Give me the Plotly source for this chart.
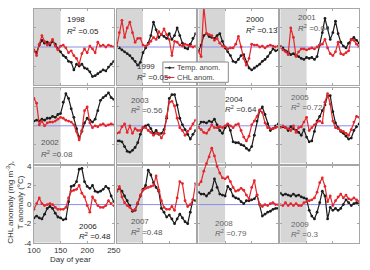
import plotly.graph_objects as go

days = list(range(100, 251, 5))
years = [1998, 1999, 2000, 2001, 2002, 2003, 2004, 2005, 2006, 2007, 2008, 2009]
r2_labels = ["0.05", "0.05", "0.13", "0.04", "0.08", "0.56", "0.64", "0.72", "0.48", "0.48", "0.79", "0.3"]
x_ticks = [100, 150, 200, 250]
y_ticks = [-4, -2, 0, 2, 4]
y_tick_text = ["-4", "-2", "0", "2", "4"]

temp_1998 = [-0.4, -0.6, 0.2, 0.7, 0.4, 0.5, 0.2, 0.6, 0.3, -0.2, -0.5, -0.9, -1.1, -1.5, -1.6, -2.4, -1.8, -2.0, -1.8, -2.2, -2.3, -2.6, -3.1, -3.0, -2.8, -2.6, -2.4, -2.5, -2.1, -1.8, -1.5]
chl_1998 = [-0.3, -0.9, 0.3, 1.2, 0.6, 0.2, 0.4, 0.8, 0.1, -0.3, 0.1, 0.2, -0.1, -0.6, -0.4, -0.9, -1.2, -1.8, -0.7, -0.2, -0.6, 0.1, -0.2, -0.6, 0.5, 0.1, 0.2, 0.0, 0.2, 0.1, 0.0]
temp_1999 = [0.0, -0.1, -0.3, -0.5, -0.7, -0.9, -1.2, -1.5, -1.9, -1.6, -0.6, -0.1, 0.4, 1.2, 2.6, 1.8, 1.0, 1.3, 1.1, 0.9, 1.4, 0.8, 1.2, 2.0, 1.2, 0.4, -0.1, -0.2, 0.3, 0.9, 1.4]
chl_1999 = [0.0, 1.5, 2.8, 1.0, 2.0, 2.6, 1.5, 0.5, 0.9, 0.9, 0.2, 0.1, 0.3, 0.6, 1.0, 0.8, 1.6, 1.3, 1.9, 1.3, 0.8, -0.9, 0.6, 0.5, 0.2, 0.1, 0.3, 0.2, 0.1, 0.0, 0.1]
temp_2000 = [-0.4, 0.2, 1.2, 1.4, 1.1, 1.0, 0.9, 1.2, 1.4, 0.6, -0.1, -0.5, -0.9, -1.5, -1.6, -1.3, -0.9, -0.8, -1.6, -2.2, -2.4, -2.2, -2.0, -1.8, -1.5, -1.3, -1.0, -0.6, -0.2, -0.4, -0.3]
chl_2000 = [-0.5, -1.0, 4.3, 1.4, 1.3, 1.2, 0.7, 0.9, 0.4, 0.1, 0.0, -0.2, -0.1, -0.1, 0.3, 1.1, 0.0, -1.2, -1.9, -1.2, 0.3, 0.2, 0.2, 0.0, 0.1, -0.1, 0.1, 0.2, 0.1, 0.0, 0.1]
temp_2001 = [0.0, -0.1, -0.4, -0.5, -0.8, -0.7, -0.9, -1.0, -1.2, -1.3, -1.1, -1.2, -1.1, -1.3, -1.0, 0.2, 1.5, 3.0, 2.0, 0.8, 1.5, 2.7, 1.4, 0.5, 0.1, -0.1, 0.4, 0.8, 1.0, 0.7, 0.4]
chl_2001 = [0.1, -0.3, -0.5, -0.8, 2.0, 1.0, -1.0, -0.5, -0.2, -0.2, -0.3, -0.2, -0.1, -0.2, 0.0, 0.2, 0.3, 0.8, -0.1, -0.7, -0.9, -0.5, 0.5, -0.7, -0.8, -0.6, -0.4, 0.8, 0.7, 0.3, 0.0]
temp_2002 = [0.5, 0.6, 0.5, 0.7, 0.6, 0.8, 0.8, 1.0, 0.9, 1.2, 1.3, 2.5, 3.4, 2.9, 1.8, 0.9, -0.3, -1.3, -0.6, 0.3, 0.8, 0.6, 0.4, 0.7, 1.6, 2.7, 3.0, 3.2, 3.5, 3.0, 2.8]
chl_2002 = [2.9, 2.4, 0.1, 0.5, 0.0, 0.3, 0.4, 0.4, 0.5, 0.7, 0.9, 0.8, 0.6, 0.5, 0.4, 0.1, -0.6, -1.5, -0.5, 1.6, 2.0, 0.3, -0.2, 0.0, -0.1, 0.1, 0.2, 0.0, 0.1, 0.2, 0.1]
temp_2003 = [-1.6, -1.6, -1.7, -2.2, -2.7, -2.8, -2.6, -2.3, -1.8, -0.9, -0.2, 0.0, 0.1, -0.3, -0.8, -0.5, -0.9, -0.8, -0.4, 0.8, 2.9, 3.3, 3.3, 2.2, 0.8, 0.1, -0.4, -0.9, -1.4, -0.9, -0.5]
chl_2003 = [-0.8, -0.7, -0.1, 0.2, -0.7, 0.0, -0.8, -0.3, -0.5, -0.5, -0.2, -0.2, -0.5, -0.7, -1.0, -0.8, -0.8, -1.3, -0.8, 1.0, 2.5, 2.6, 2.1, 0.8, -0.2, -0.5, -1.0, -0.6, -0.3, 0.2, 0.6]
temp_2004 = [0.0, 0.4, 0.4, 0.3, 0.5, 0.4, 0.7, 0.1, -0.5, -0.8, -0.2, 0.1, -0.5, -1.7, -1.8, -1.8, -2.0, -2.1, -2.4, -2.6, -2.2, -1.0, 0.5, 1.6, 2.0, 1.2, 0.2, -0.5, -0.3, 0.0, 0.2]
chl_2004 = [-0.2, -0.4, -0.7, -0.8, -0.4, 0.1, -0.2, -0.2, -0.1, -0.2, 0.0, 0.2, 0.0, -0.2, 0.1, 0.2, -0.5, -1.2, -1.6, -1.1, 0.1, 0.5, 1.0, 1.7, 1.4, 0.3, -0.2, -0.3, -0.3, -0.2, -0.1]
temp_2005 = [0.0, -0.1, -0.2, -0.5, -0.1, -0.3, -0.5, -0.7, -1.0, -0.4, -1.2, -1.7, -1.6, -0.6, 0.5, 1.0, 1.6, 2.2, 3.2, 3.2, 1.5, 0.3, -0.2, -0.6, -0.8, -1.1, -1.4, -1.3, -0.5, -0.1, 0.2]
chl_2005 = [-0.2, 0.0, -0.2, -0.3, -0.5, 0.0, -0.7, -0.2, -0.1, 0.4, 0.9, -0.5, -0.2, 0.1, 0.4, 0.5, 0.3, 2.5, 3.4, 2.3, 0.5, -0.2, -0.3, -0.5, -0.6, -0.8, -1.0, -0.4, 0.4, 1.0, 0.9]
temp_2006 = [-1.4, -1.2, -1.4, -1.5, -1.0, -0.4, -0.2, -0.4, -0.9, -1.3, -1.4, -1.6, -1.5, 0.3, 1.9, 2.0, 2.4, 3.7, 3.8, 2.4, 1.9, 1.7, 2.0, 1.4, 1.3, 1.4, 1.6, 1.9, 1.7, 0.9, 0.3]
chl_2006 = [-0.5, 0.1, 0.7, 0.1, -0.1, 0.0, 0.1, 0.0, -0.3, -0.5, -0.5, -0.5, -0.3, 0.7, 1.4, 1.5, 1.6, 2.0, 1.2, 0.8, -0.1, -0.8, 0.8, 0.4, -0.1, -0.3, -0.3, -0.1, 0.4, 0.1, -0.1]
temp_2007 = [1.4, 1.7, 1.4, 0.9, 0.4, -0.1, -0.7, -0.6, 0.1, 0.9, 1.6, 2.0, 3.6, 3.1, 2.3, 1.8, 1.4, -0.4, -0.8, -1.3, -1.1, -1.5, -2.0, -1.5, -1.0, -1.4, -1.8, -2.0, -0.8, 0.5, 0.4]
chl_2007 = [1.4, 1.9, 0.8, 0.2, -0.1, -0.3, -0.6, -0.5, 0.2, 1.0, 1.5, 1.7, 1.8, 1.9, 2.0, 3.0, 1.5, 0.4, -0.3, -0.5, -0.5, -0.2, -0.6, 0.7, 2.4, 2.2, 0.4, -0.2, 0.0, 0.5, 2.2]
temp_2008 = [1.3, 1.1, 1.1, 0.9, 1.2, 1.5, 2.7, 1.8, 1.1, 1.0, 0.9, 1.9, 1.6, 0.9, 0.7, 0.6, 0.3, 0.1, 0.4, 0.4, 0.5, 0.6, 1.0, 0.0, -1.2, -1.0, -0.8, -0.7, -0.5, -0.4, -0.4]
chl_2008 = [2.1, 2.4, 3.5, 4.3, 5.0, 5.9, 5.1, 4.0, 3.3, 2.8, 2.7, 2.9, 2.4, 1.8, 1.4, 1.5, 1.7, 1.5, 1.0, 0.6, 1.8, 2.5, 1.0, 0.0, -0.2, 0.0, -0.1, 0.1, 0.2, 0.0, 0.0]
temp_2009 = [1.2, 1.0, 1.1, 1.0, 0.9, 1.1, 0.9, 1.0, 0.8, 0.7, 0.6, -0.6, -1.2, -1.5, -0.8, 0.2, 1.4, 0.9, -1.5, -0.3, -0.6, -0.4, -0.6, -0.4, 0.0, 0.5, 0.2, -0.1, 0.1, 0.2, 0.0]
chl_2009 = [0.0, -0.1, 0.2, -0.1, 0.1, -0.1, 0.1, -0.1, -0.1, 0.2, 0.3, 0.4, 0.5, 0.7, 1.3, 2.3, 2.8, 1.9, 0.3, 0.9, -0.1, 0.4, 0.8, 1.1, 0.7, 1.0, 0.6, 0.5, 0.7, 0.5, 0.3]

temp = {1998: temp_1998, 1999: temp_1999, 2000: temp_2000, 2001: temp_2001,
        2002: temp_2002, 2003: temp_2003, 2004: temp_2004, 2005: temp_2005,
        2006: temp_2006, 2007: temp_2007, 2008: temp_2008, 2009: temp_2009}
chl = {1998: chl_1998, 1999: chl_1999, 2000: chl_2000, 2001: chl_2001,
       2002: chl_2002, 2003: chl_2003, 2004: chl_2004, 2005: chl_2005,
       2006: chl_2006, 2007: chl_2007, 2008: chl_2008, 2009: chl_2009}

W, H = 370, 270
FONT = "Liberation Sans, Arial, sans-serif"
col_px = [(28, 111), (114, 196), (199, 282), (284, 366)]
row_px = [(5, 84), (87, 165), (168, 247)]
# label positions (left x, year y, R2 y) in pixels
label_px = {1998: (60, 16, 28), 1999: (133, 65, 76), 2000: (246, 16, 27), 2001: (300, 14, 25),
            2002: (33, 143, 155), 2003: (127, 100, 110), 2004: (225, 99, 109), 2005: (293, 97, 107),
            2006: (73, 230, 240), 2007: (127, 225, 236), 2008: (214, 227, 237), 2009: (293, 228, 238)}
label_col = {1998: "#222", 1999: "#333", 2000: "#222", 2001: "#555", 2002: "#555", 2003: "#555",
             2004: "#333", 2005: "#666", 2006: "#222", 2007: "#555", 2008: "#666", 2009: "#666"}


def px(x):
    return x / W


def py(y):
    return 1 - y / H


BLACK = "#1c1c1c"
RED = "#e5262b"
FRAME = "#a6a6a6"
ZERO = "#8d8de8"

fig = go.Figure()
layout = {}
shapes = []
annotations = []

for i, yr in enumerate(years):
    r, c = divmod(i, 4)
    n = i + 1
    suf = "" if n == 1 else str(n)
    x0, x1 = col_px[c]
    y0, y1 = row_px[r]
    show = (i == 8)
    layout["xaxis" + suf] = dict(
        domain=[px(x0), px(x1)], range=[100, 250], anchor="y" + suf,
        showline=True, mirror="ticks", linecolor=FRAME, linewidth=1,
        ticks="inside", ticklen=2, tickcolor=FRAME, tickvals=x_ticks,
        showticklabels=show, showgrid=False, zeroline=False,
        tickfont=dict(size=8, color="#333", family=FONT))
    layout["yaxis" + suf] = dict(
        domain=[py(y1), py(y0)], range=[-4, 4], anchor="x" + suf,
        showline=True, mirror="ticks", linecolor=FRAME, linewidth=1,
        ticks="inside", ticklen=2, tickcolor=FRAME, tickvals=y_ticks, ticktext=y_tick_text,
        showticklabels=show, showgrid=False, zeroline=False,
        tickfont=dict(size=8, color="#333", family=FONT))
    shapes.append(dict(type="rect", xref="x" + suf, yref="y" + suf, x0=100, x1=150, y0=-4, y1=4,
                       fillcolor="#d6d6d6", line=dict(width=0), layer="below"))
    shapes.append(dict(type="line", xref="x" + suf, yref="y" + suf, x0=100, x1=250, y0=0, y1=0,
                       line=dict(color=ZERO, width=1), layer="below"))

    fig.add_trace(go.Scatter(x=days, y=temp[yr], mode="lines+markers", name="Temp. anom.",
                             line=dict(color=BLACK, width=1.2), marker=dict(size=2.8, color=BLACK),
                             xaxis="x" + suf, yaxis="y" + suf, showlegend=False))
    red_y = "y" + suf
    if yr == 2008:
        # red 2008 runs above its panel in the reference; use a taller hidden axis with the same scale
        top_px = 140
        span = 8 * (y1 - top_px) / (y1 - y0)
        layout["yaxis13"] = dict(domain=[py(y1), py(top_px)], range=[-4, -4 + span], anchor="x" + suf,
                                 visible=False, showgrid=False, zeroline=False)
        red_y = "y13"
    fig.add_trace(go.Scatter(x=days, y=chl[yr], mode="lines+markers", name="CHL anom.",
                             line=dict(color=RED, width=1.2), marker=dict(size=2.8, color=RED),
                             xaxis="x" + suf, yaxis=red_y, showlegend=False))

    lx, ly1, ly2 = label_px[yr]
    annotations.append(dict(x=px(lx), y=py(ly1), xref="paper", yref="paper", text=str(yr),
                            showarrow=False, xanchor="left", yanchor="middle",
                            font=dict(size=8, color=label_col[yr], family=FONT)))
    annotations.append(dict(x=px(lx), y=py(ly2), xref="paper", yref="paper",
                            text="<i>R</i><sup>2</sup> =" + r2_labels[i],
                            showarrow=False, xanchor="left", yanchor="middle",
                            font=dict(size=8, color=label_col[yr], family=FONT)))

# legend drawn manually (compact, like the reference)
shapes.append(dict(type="rect", xref="paper", yref="paper", x0=px(162), x1=px(230), y0=py(81), y1=py(60),
                   fillcolor="white", line=dict(color="#8a8a8a", width=1), layer="above"))
for yy, col in [(66, BLACK), (76, RED)]:
    shapes.append(dict(type="line", xref="paper", yref="paper", x0=px(164), x1=px(174), y0=py(yy), y1=py(yy),
                       line=dict(color=col, width=1), layer="above"))
    shapes.append(dict(type="circle", xref="paper", yref="paper", x0=px(168), x1=px(170), y0=py(yy + 1), y1=py(yy - 1),
                       fillcolor=col, line=dict(color=col, width=0.5), layer="above"))
annotations.append(dict(x=px(175), y=py(66), xref="paper", yref="paper", text="Temp. anom.",
                        showarrow=False, xanchor="left", yanchor="middle",
                        font=dict(size=7.5, color="#444", family=FONT)))
annotations.append(dict(x=px(175), y=py(76), xref="paper", yref="paper", text="CHL anom.",
                        showarrow=False, xanchor="left", yanchor="middle",
                        font=dict(size=7.5, color="#444", family=FONT)))

# axis titles
annotations.append(dict(x=px(8), y=py(205), xref="paper", yref="paper",
                        text="CHL anomaly (mg m<sup>-3</sup>),<br>T anomaly (°C)",
                        textangle=-90, showarrow=False, xanchor="center", yanchor="middle",
                        font=dict(size=8, color="#333", family=FONT)))
annotations.append(dict(x=px(66), y=py(264), xref="paper", yref="paper", text="Day of year",
                        showarrow=False, xanchor="center", yanchor="middle",
                        font=dict(size=8, color="#333", family=FONT)))

fig.update_layout(**layout)
fig.update_layout(width=W, height=H, margin=dict(l=0, r=0, t=0, b=0),
                  paper_bgcolor="white", plot_bgcolor="rgba(0,0,0,0)",
                  showlegend=False, shapes=shapes, annotations=annotations,
                  font=dict(family=FONT))
fig.write_html("out.html")
